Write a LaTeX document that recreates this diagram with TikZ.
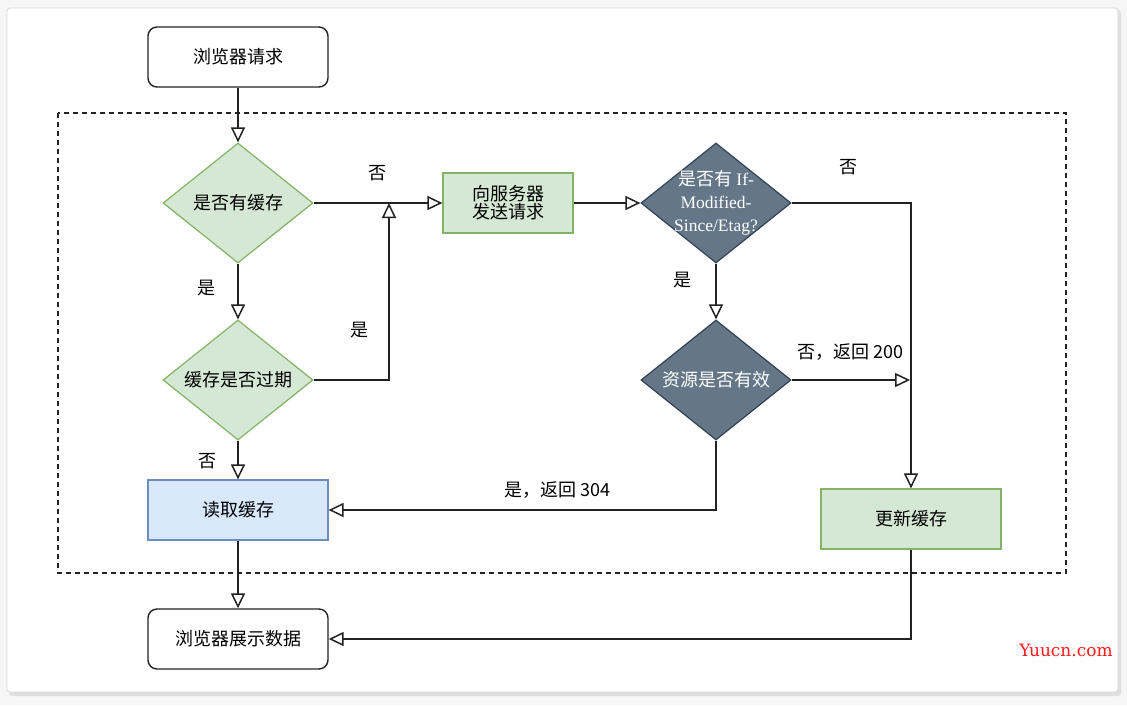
\documentclass[tikz,border=0pt]{standalone}
\usepackage{fontspec}
\setmainfont{Liberation Sans}
\newfontfamily\cjk{Noto Sans CJK SC}
\newfontfamily\serifcjk{Liberation Serif}
\newfontfamily\wmfont{DejaVu Serif}
\usetikzlibrary{shapes.geometric,arrows.meta}
\definecolor{greenfill}{HTML}{D5E8D4}
\definecolor{greenline}{HTML}{82B366}
\definecolor{bluefill}{HTML}{DAE8FC}
\definecolor{blueline}{HTML}{6C8EBF}
\definecolor{slatefill}{HTML}{647687}
\definecolor{slateline}{HTML}{314354}
\definecolor{linec}{HTML}{222222}
\definecolor{wmred}{HTML}{FF1A1A}
\tikzset{
  txt/.style={font=\fontsize{18}{21}\selectfont\cjk, text=black},
  endbox/.style={txt, draw=linec, line width=1.4pt, rounded corners=9pt, minimum width=180pt, minimum height=60pt, inner sep=0pt},
  greenbox/.style={txt, draw=greenline, fill=greenfill, line width=1.2pt, minimum height=60pt, inner sep=0pt, align=center},
  bluebox/.style={txt, draw=blueline, fill=bluefill, line width=1.2pt, minimum width=180pt, minimum height=60pt, inner sep=0pt},
  greendia/.style={diamond, draw=greenline, fill=greenfill, line width=1.2pt, minimum width=150pt, minimum height=120pt, inner sep=0pt},
  slatedia/.style={diamond, draw=slateline, fill=slatefill, line width=1.2pt, minimum width=150pt, minimum height=120pt, inner sep=0pt},
  conn/.style={draw=linec, line width=1.5pt, -{Triangle[open, length=15pt, width=14pt, line width=1.5pt]}},
  lbl/.style={txt, inner sep=0pt}
}
\begin{document}
\begin{tikzpicture}[x=1pt,y=-1pt]
\useasboundingbox (0,0) rectangle (1127,705);
% frame
\fill[gray!7] (0,0) rectangle (1127,705);
\fill[gray!25, rounded corners=3pt] (9,10) rectangle (1121,696);
\fill[white, rounded corners=3pt] (7,8) rectangle (1118,692);
\draw[gray!30, line width=0.8pt, rounded corners=3pt] (7,8) rectangle (1118,692);
% dashed group
\draw[linec, line width=1.2pt, dash pattern=on 5pt off 4pt] (58,113) rectangle (1066,573);

% nodes
\node[endbox] (req) at (238,57) {浏览器请求};
\node[greendia, label={[txt]center:是否有缓存}] (d1) at (238,203) {};
\node[greendia, label={[txt]center:缓存是否过期}] (d2) at (238,380) {};
\node[bluebox] (read) at (238,510) {读取缓存};
\node[endbox] (show) at (238,639) {浏览器展示数据};
\node[greenbox, minimum width=130pt] (send) at (508,203) {向服务器\\[-3pt]发送请求};
\node[slatedia, label={[font=\fontsize{17.5}{23}\selectfont\serifcjk, text=white, align=center, inner sep=0pt]center:{\cjk\fontsize{18}{23}\selectfont 是否有}\ If-\\Modified-\\Since/Etag?}] (d3) at (716,203) {};
\node[slatedia, label={[txt, text=white]center:资源是否有效}] (d4) at (716,380) {};
\node[greenbox, minimum width=180pt] (upd) at (911,519) {更新缓存};

\coordinate (j1) at (389,203);
\coordinate (j2) at (910,380);

% connectors
\draw[conn] (req) -- (d1);
\draw[conn] (d1) -- (d2);
\draw[conn] (d1.east) -- (send.west);
\draw[conn] (d2.east) -| (j1);
\draw[conn] (d2) -- (read);
\draw[conn] (send.east) -- (d3.west);
\draw[conn] (d3.east) -| (upd.north);
\draw[conn] (d3) -- (d4);
\draw[conn] (d4.east) -- (j2);
\draw[conn] (d4.south) |- (read.east);
\draw[conn] (read) -- (show);
\draw[conn] (upd.south) |- (show.east);

% labels
\node[lbl] (l1) at (377,173) {否};
\node[lbl] (l2) at (206,288) {是};
\node[lbl] (l3) at (359,330) {是};
\node[lbl] (l4) at (207,461) {否};
\node[lbl] (l5) at (848,167) {否};
\node[lbl] (l6) at (682,280) {是};
\node[lbl] (l7) at (850,352) {否，返回 200};
\node[lbl] (l8) at (557,490) {是，返回 304};

% watermark
\node[font=\fontsize{17}{19}\selectfont\wmfont, text=wmred, inner sep=0pt] (wm) at (1066,650) {Yuucn.com};
\end{tikzpicture}
\end{document}
